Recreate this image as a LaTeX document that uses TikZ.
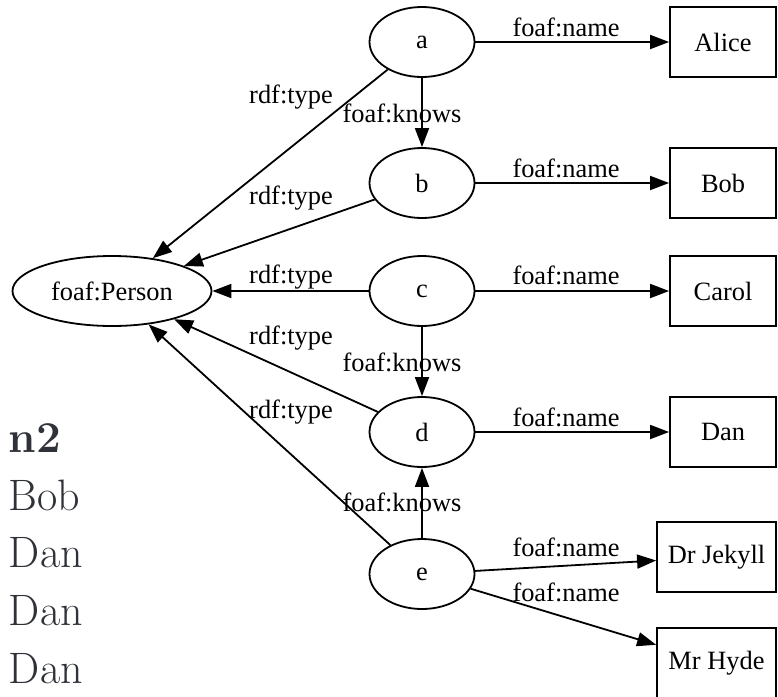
\documentclass[tikz,border=0pt]{standalone}
\usepackage{fontspec}
\newfontfamily\gvfont{Liberation Serif}
\usetikzlibrary{positioning, shapes.geometric, arrows.meta}
\definecolor{rowgray}{RGB}{48,50,57}

\begin{document}
\begin{tikzpicture}[x=1pt, y=-1pt, line width=1.8pt, >={Triangle[length=19pt, width=14pt]}, font=\gvfont\fontsize{26.4}{30}\selectfont]
    % Define block styles
    \tikzstyle{res} = [ellipse, draw, minimum width=105pt, minimum height=70pt, inner sep=0pt]
    \tikzstyle{lit} = [rectangle, draw, minimum width=106pt, minimum height=70pt, inner sep=0pt]
    \tikzstyle{lbl} = [inner sep=0pt]
    \tikzstyle{row} = [anchor=base west, inner sep=0pt, text=rowgray, font=\normalfont\fontsize{44}{50}\selectfont]

    \useasboundingbox (0,0) rectangle (778,696);

    % Place resource nodes
    \node [res] (a) at (422,42) {a};
    \node [res, node distance=141pt, below of=a] (b) {b};
    \node [res, node distance=108pt, below of=b] (c) {c};
    \node [res, node distance=141pt, below of=c] (d) {d};
    \node [res, node distance=142pt, below of=d] (e) {e};
    \node [res, minimum width=199pt, node distance=310pt, left of=c] (person) {foaf:Person};

    % Place name literals
    \node [lit, node distance=301pt, right of=a] (alice) {Alice};
    \node [lit, node distance=301pt, right of=b] (bob) {Bob};
    \node [lit, node distance=301pt, right of=c] (carol) {Carol};
    \node [lit, node distance=301pt, right of=d] (dan) {Dan};
    \node [lit, minimum width=119pt, node distance=294.5pt, right of=e, yshift=17pt] (jekyll) {Dr Jekyll};
    \node [lit, minimum width=119pt, node distance=294.5pt, right of=e, yshift=-89pt] (hyde) {Mr Hyde};

    % Draw rdf:type connections
    \draw [->] (a) -- (person);
    \draw [->] (b) -- (person);
    \draw [->] (c) -- (person);
    \draw [->] (d) -- (person);
    \draw [->] (e) -- (person);

    % Draw foaf:knows connections
    \draw [->] (a) -- (b);
    \draw [->] (c) -- (d);
    \draw [->] (e) -- (d);

    % Draw foaf:name connections
    \draw [->] (a) -- (alice);
    \draw [->] (b) -- (bob);
    \draw [->] (c) -- (carol);
    \draw [->] (d) -- (dan);
    \draw [->] (e) -- (jekyll);
    \draw [->] (e) -- (hyde);

    % Add text on the arrows
    \node [lbl] (ta) at (291,97) {rdf:type};
    \node [lbl] (tb) at (291,198) {rdf:type};
    \node [lbl] (tc) at (291,277) {rdf:type};
    \node [lbl] (td) at (291,338) {rdf:type};
    \node [lbl] (te) at (291,412) {rdf:type};
    \node [lbl] (kab) at (402,113) {foaf:knows};
    \node [lbl] (kcd) at (402,362) {foaf:knows};
    \node [lbl] (ked) at (402,502) {foaf:knows};
    \node [lbl] (na) at (566,27) {foaf:name};
    \node [lbl] (nb) at (566,168) {foaf:name};
    \node [lbl] (nc) at (566,275) {foaf:name};
    \node [lbl] (nd) at (566,417) {foaf:name};
    \node [lbl] (nj) at (566,547) {foaf:name};
    \node [lbl] (nh) at (566,592) {foaf:name};

    % Result column
    \node [row] (r0) at (8,452) {\bfseries n2};
    \node [row] (r1) at (8,510) {Bob};
    \node [row] (r2) at (8,567) {Dan};
    \node [row] (r3) at (8,625) {Dan};
    \node [row] (r4) at (8,683) {Dan};

\end{tikzpicture}
\end{document}
